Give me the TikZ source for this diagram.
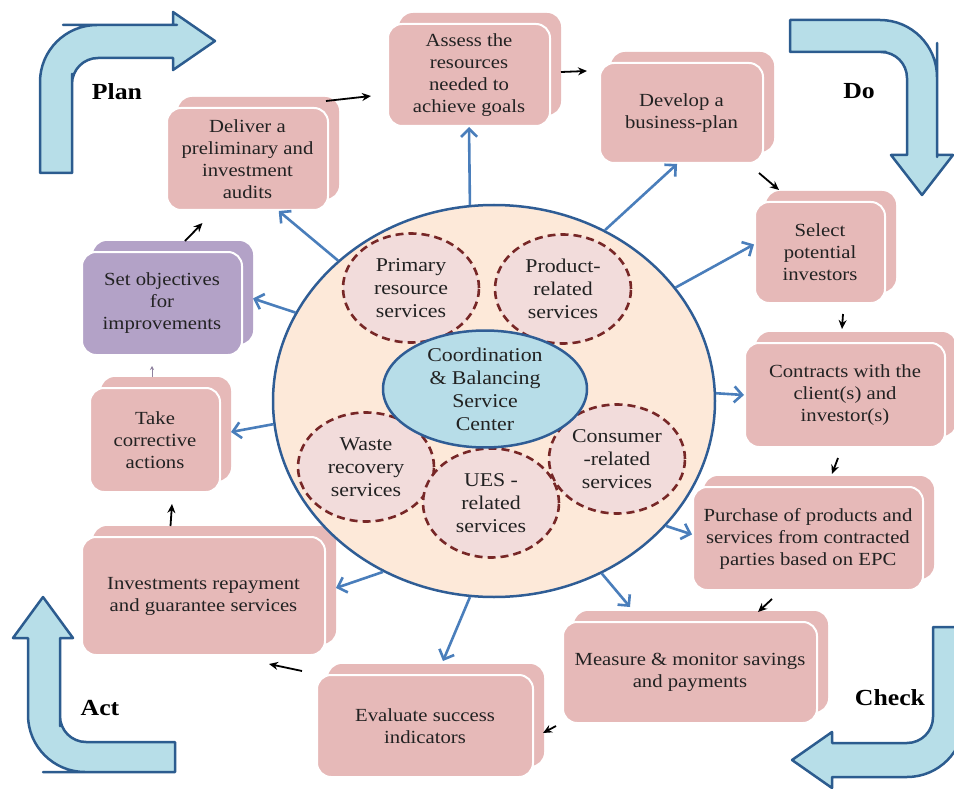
\documentclass[tikz,border=0pt]{standalone}
\usepackage{fontspec}
\setmainfont{Liberation Serif}[FakeStretch=1.12]
\usetikzlibrary{shapes.geometric,shadows,arrows.meta}

\definecolor{boxpink}{HTML}{E6B9B8}
\definecolor{boxpurple}{HTML}{B3A2C7}
\definecolor{hubfill}{HTML}{FDE9D9}
\definecolor{hubline}{HTML}{2F5D95}
\definecolor{corefill}{HTML}{B7DDE8}
\definecolor{svcfill}{HTML}{F2DCDB}
\definecolor{svcline}{HTML}{772727}
\definecolor{linkblue}{HTML}{4A7EBB}
\definecolor{pdcafill}{HTML}{B7DEE8}
\definecolor{pdcaline}{HTML}{2C5C8F}
\definecolor{inktext}{HTML}{222222}

\begin{document}
\begin{tikzpicture}[x=1pt,y=-1pt,
    stage/.style n args={3}{rectangle,rounded corners=14pt,fill=#3,draw=white,line width=2pt,
      minimum width=#1,minimum height=#2,inner sep=2pt,align=center,text=inktext,
      font=\fontsize{18.5}{22}\selectfont,
      general shadow={fill=#3,shadow xshift=11pt,shadow yshift=11pt}},
    hubshape/.style={ellipse,fill=hubfill,draw=hubline,line width=2.5pt,
      minimum width=442pt,minimum height=392pt,inner sep=0pt},
    svc/.style={ellipse,fill=svcfill,draw=svcline,line width=2.6pt,dash pattern=on 8pt off 5pt,
      minimum width=136pt,minimum height=109pt,inner sep=0pt,align=center,text=inktext,
      font=\fontsize{19.5}{23}\selectfont},
    coreshape/.style={ellipse,fill=corefill,draw=hubline,line width=2.5pt,
      minimum width=204pt,minimum height=112pt,inner sep=0pt,align=center,text=inktext,
      font=\fontsize{19.5}{23}\selectfont},
    pdca/.style={fill=pdcafill,draw=pdcaline,line width=2.5pt,line join=round},
    phase/.style={font=\fontsize{23}{25}\selectfont\bfseries},
    link/.style={draw=linkblue,line width=2.6pt,-{Straight Barb[length=8pt,width=16pt]}},
    flow/.style={line width=1.8pt,-{Stealth[length=9pt,width=8pt]}},
    thinflow/.style={draw=boxpurple!80!black,line width=0.9pt,-{Stealth[length=4pt,width=4pt]}}]

  \path[use as bounding box,clip] (0,0) rectangle (954,789);

  \draw[pdca] (40,173) -- (40,110) [rounded corners=57pt] -- (40,25) -- (120,25) [sharp corners]
    -- (173,25) -- (173,12) -- (215,41) -- (173,70) -- (173,58) -- (130,58) [rounded corners=26pt]
    -- (72,58) -- (72,100) [sharp corners] -- (72,173) -- cycle;
  \draw[pdca] (790,20) -- (860,20) [rounded corners=57pt] -- (937,20) -- (937,100) [sharp corners]
    -- (937,155) -- (953,155) -- (922,195) -- (891,155) -- (907,155) -- (907,110) [rounded corners=26pt]
    -- (907,52) -- (860,52) [sharp corners] -- (790,52) -- cycle;
  \draw[pdca] (933,627) -- (933,690) [rounded corners=26pt] -- (933,743) -- (880,743) [sharp corners]
    -- (832,743) -- (832,732) -- (792,760) -- (832,788) -- (832,777) -- (900,777) [rounded corners=57pt]
    -- (964,777) -- (964,700) [sharp corners] -- (964,627) -- cycle;
  \draw[pdca] (28,638) -- (28,700) [rounded corners=57pt] -- (28,772) -- (100,772) [sharp corners]
    -- (175,772) -- (175,742) -- (120,742) [rounded corners=26pt] -- (60,742) -- (60,700) [sharp corners]
    -- (60,638) -- (73,638) -- (43,597) -- (13,638) -- cycle;

  \node[phase] (plan) at (117,92) {Plan};
  \node[phase] (do) at (859,91) {Do};
  \node[phase] (check) at (890,698) {Check};
  \node[phase] (act) at (100,708) {Act};

  \node[stage={161pt}{102pt}{boxpink}] (deliver) at (247.5,159) {Deliver a\\preliminary and\\investment\\audits};
  \node[stage={162pt}{102pt}{boxpink}] (assess) at (469,75) {Assess the\\resources\\needed to\\achieve goals};
  \node[stage={163pt}{100pt}{boxpink}] (develop) at (681.5,113) {Develop a\\business-plan};
  \node[stage={130pt}{101pt}{boxpink}] (select) at (820,252.5) {Select\\potential\\investors};
  \node[stage={200pt}{104pt}{boxpink}] (contracts) at (845,395) {Contracts with the\\client(s) and\\investor(s)};
  \node[stage={230pt}{103pt}{boxpink}] (purchase) at (808,538.5) {Purchase of products and\\services from contracted\\parties based on EPC};
  \node[stage={254pt}{101pt}{boxpink}] (measure) at (690,672.5) {Measure \& monitor savings\\and payments};
  \node[stage={216pt}{102pt}{boxpink}] (evaluate) at (425,726) {Evaluate success\\indicators};
  \node[stage={243pt}{118pt}{boxpink}] (repay) at (203.5,596) {Investments repayment\\and guarantee services};
  \node[stage={130pt}{104pt}{boxpink}] (corrective) at (155,440) {Take\\corrective\\actions};
  \node[stage={160pt}{103pt}{boxpurple}] (objectives) at (162,303.5) {Set objectives\\for\\improvements};

  \node[hubshape] (hub) at (494,401) {};
  \node[svc] (primary) at (411,288) {Primary\\resource\\services};
  \node[svc] (product) at (563,289) {Product-\\related\\services};
  \node[svc] (waste) at (366,467) {Waste\\recovery\\services};
  \node[svc] (ues) at (491,503) {UES -\\related\\services};
  \node[svc] (consumer) at (617,459) {Consumer\\-related\\services};
  \node[coreshape] (core) at (485,389) {Coordination\\\& Balancing\\Service\\Center};

  \draw[link] (hub.138.8) -- (deliver.-59);
  \draw[link] (hub.97) -- (assess.south);
  \draw[link] (hub.57.5) -- (develop.-95);
  \draw[link] (hub.32.3) -- (select.173);
  \draw[link] (hub.2) -- (contracts.west);
  \draw[link] (hub.-36) -- (purchase.178);
  \draw[link] (hub.-58.2) -- ([xshift=-60pt,yshift=14pt]measure.north);
  \draw[link] (hub.-97) -- ([xshift=18pt,yshift=13pt]evaluate.north);
  \draw[link] (hub.-123.8) -- ([xshift=10pt,yshift=8pt]repay.east);
  \draw[link] (hub.186) -- ([xshift=10pt,yshift=8pt]corrective.east);
  \draw[link] (hub.156.9) -- ([xshift=10pt,yshift=5pt]objectives.east);

  \draw[flow] ([xshift=-3pt,yshift=6pt]deliver.north east) -- ([xshift=-16pt,yshift=-21pt]assess.west);
  \draw[flow] ([xshift=10pt,yshift=3pt]assess.east) -- ([xshift=-12pt,yshift=-9pt]develop.north west);
  \draw[flow] ([xshift=-5pt,yshift=-9pt]develop.south east) -- ([xshift=25pt,yshift=11pt]select.north west);
  \draw[flow] ([xshift=23pt,yshift=-10pt]select.south) -- ([xshift=-3pt,yshift=13pt]contracts.north);
  \draw[flow] ([xshift=-7pt,yshift=-10pt]contracts.south) -- ([xshift=24pt,yshift=12pt]purchase.north);
  \draw[flow] ([xshift=-36pt,yshift=-8pt]purchase.south) -- ([xshift=68pt,yshift=9pt]measure.north);
  \draw[flow] ([xshift=-6pt,yshift=-2pt]measure.south west) -- ([xshift=9pt,yshift=-7pt]evaluate.east);
  \draw[flow] ([xshift=-14pt,yshift=3pt]evaluate.north west) -- ([xshift=-57pt,yshift=-8pt]repay.south east);
  \draw[flow] ([xshift=-33pt,yshift=10pt]repay.north) -- ([xshift=17pt,yshift=-11pt]corrective.south);
  \draw[thinflow] ([xshift=-3pt,yshift=10pt]corrective.north) -- ([xshift=-10pt,yshift=-10pt]objectives.south);
  \draw[flow] ([xshift=23pt,yshift=10pt]objectives.north) -- ([xshift=-45pt,yshift=-12pt]deliver.south);
\end{tikzpicture}
\end{document}
